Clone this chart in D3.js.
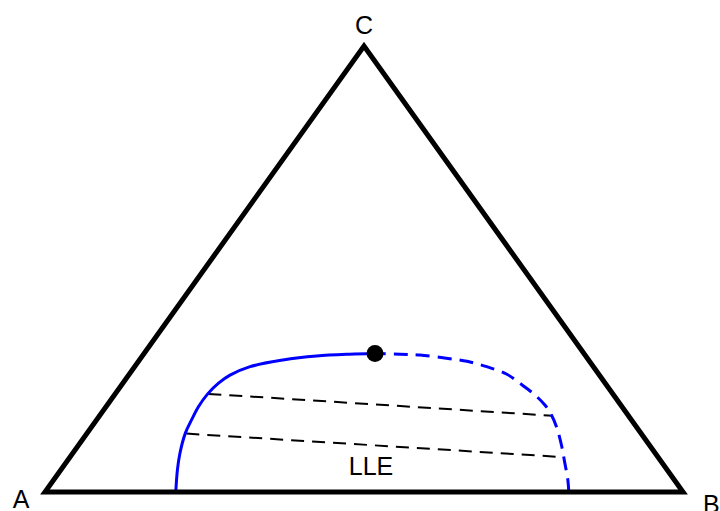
<!DOCTYPE html>
<html>
<head>
<meta charset="utf-8">
<script src="https://cdn.jsdelivr.net/npm/d3@7"></script>
<style>
  html, body { margin: 0; padding: 0; background: #fff; }
  svg { display: block; }
  text { font-family: "Liberation Sans", Arial, Helvetica, sans-serif; }
</style>
</head>
<body>
<svg id="chart" width="720" height="511"></svg>
<script>
// Ternary compositions in percent: [xB, xC] (xA = 100 - xB - xC)
const vertexNames = ["A", "B", "C"];
const vertices = [[0, 0], [100, 0], [0, 100]];

// A-rich branch of the binodal, from the A–B edge up to the plait point
const branchA = [
  [20.5, 0.0], [18.3, 4.9], [16.8, 8.7], [15.4, 13.2], [14.9, 16.1],
  [14.5, 19.1], [14.5, 22.0], [15.0, 24.4], [15.9, 26.2], [18.1, 28.1],
  [22.5, 29.6], [27.3, 30.5], [32.3, 30.9], [36.2, 31.05]
];

// B-rich branch, from the A–B edge up to the plait point
const branchB = [
  [82.1, 0.0], [80.6, 2.7], [78.1, 6.7], [75.9, 10.2], [73.1, 14.3],
  [70.8, 17.2], [68.6, 19.5], [65.6, 22.0], [62.2, 24.4], [59.2, 26.4],
  [55.2, 28.1], [51.5, 29.3], [47.9, 30.0], [43.4, 30.7], [40.2, 30.9],
  [36.2, 31.05]
];

// Tie lines joining coexisting phases
const tieLines = [
  [[14.6, 22.0], [71.0, 17.1]],
  [[15.6, 13.1], [76.3, 7.9]]
];

const plaitPoint = [36.2, 31.05];
const regionLabel = { text: "LLE", at: [49.2, 3.8] };

const svg = d3.select("#chart");

// Scales: horizontal position from xB + xC/2, vertical from xC
const sx = d3.scaleLinear().domain([0, 100]).range([45, 683]);
const sy = d3.scaleLinear().domain([0, 100]).range([492, 46]);
const px = d => sx(d[0] + d[1] / 2);
const py = d => sy(d[1]);

const smooth = d3.line().x(px).y(py).curve(d3.curveCatmullRom.alpha(0.5));
const straight = d3.line().x(px).y(py);

// Tie lines
svg.append("g").selectAll("path")
  .data(tieLines)
  .join("path")
  .attr("d", straight)
  .attr("fill", "none")
  .attr("stroke", "#000")
  .attr("stroke-width", 2)
  .attr("stroke-dasharray", "13,8");

// Binodal curve: solid A-rich branch, dashed B-rich branch
svg.append("path")
  .attr("d", smooth(branchA))
  .attr("fill", "none")
  .attr("stroke", "#0000ff")
  .attr("stroke-width", 3);

svg.append("path")
  .attr("d", smooth(branchB))
  .attr("fill", "none")
  .attr("stroke", "#0000ff")
  .attr("stroke-width", 3)
  .attr("stroke-dasharray", "14,8");

// Triangle frame
svg.append("path")
  .attr("d", straight(vertices) + "Z")
  .attr("fill", "none")
  .attr("stroke", "#000")
  .attr("stroke-width", 5)
  .attr("stroke-linejoin", "miter")
  .attr("stroke-miterlimit", 10);

// Plait point
svg.append("circle")
  .attr("cx", px(plaitPoint))
  .attr("cy", py(plaitPoint))
  .attr("r", 8.5)
  .attr("fill", "#000");

// Vertex labels
const labelOffsets = [[-24, 16, "middle"], [20, 21, "start"], [0, -12, "middle"]];
svg.append("g").selectAll("text")
  .data(vertexNames)
  .join("text")
  .attr("x", (d, i) => px(vertices[i]) + labelOffsets[i][0])
  .attr("y", (d, i) => py(vertices[i]) + labelOffsets[i][1])
  .attr("text-anchor", (d, i) => labelOffsets[i][2])
  .attr("font-size", 25)
  .attr("fill", "#000")
  .text(d => d);

// Region label
svg.append("text")
  .attr("x", px(regionLabel.at))
  .attr("y", py(regionLabel.at))
  .attr("text-anchor", "middle")
  .attr("font-size", 25)
  .attr("fill", "#000")
  .text(regionLabel.text);
</script>
</body>
</html>
